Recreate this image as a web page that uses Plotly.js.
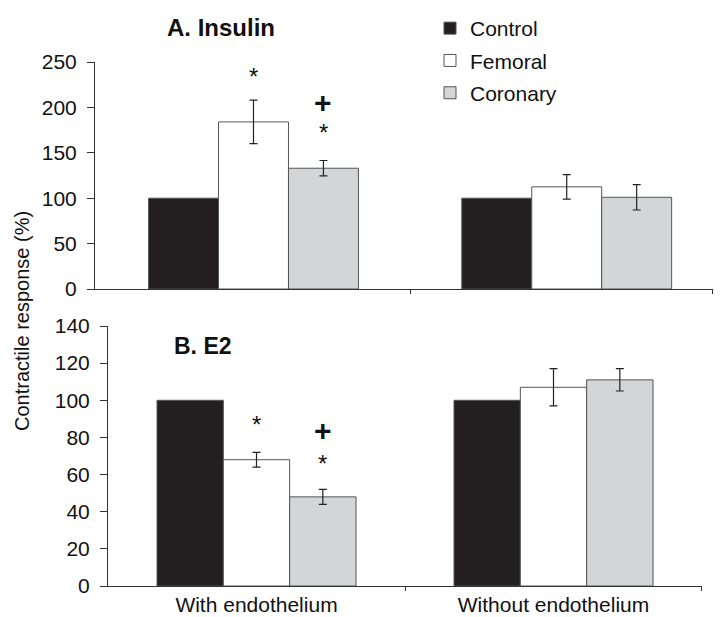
<!DOCTYPE html>
<html>
<head>
<meta charset="utf-8">
<script src="https://cdn.plot.ly/plotly-3.0.1.min.js"></script>
<style>html,body{margin:0;padding:0;background:#fff;}#chart{width:721px;height:617px;}</style>
</head>
<body>
<div id="chart"></div>
<script>
// ---- data ----
const groups = ["With endothelium", "Without endothelium"];
const groupPos = [0, 1];
const seriesNames = ["Control", "Femoral", "Coronary"];
const seriesColors = ["#231f20", "#ffffff", "#d4d5d7"];

// Panel A: Insulin
const insulinControl = [100, 100];
const insulinFemoral = [184, 112.5];
const insulinFemoralErr = [24, 13.5];
const insulinCoronary = [133, 101];
const insulinCoronaryErr = [8.5, 14];

// Panel B: E2
const e2Control = [100, 100];
const e2Femoral = [68, 107];
const e2FemoralErr = [4, 10];
const e2Coronary = [48, 111];
const e2CoronaryErr = [4, 6];

// significance marks: [panel, series, group, y, text]
const sigMarks = [
  ["A", 1, 0, 234, "*"],
  ["A", 2, 0, 205, "+"],
  ["A", 2, 0, 172, "*"],
  ["B", 1, 0, 87, "*"],
  ["B", 2, 0, 84, "+"],
  ["B", 2, 0, 66, "*"]
];

const font = "Liberation Sans, Arial, sans-serif";
const lineCol = "#555555";

function mk(name, idx, y, err, xa, ya, showleg) {
  const t = {
    type: "bar", name: name, x: groupPos, y: y, xaxis: xa, yaxis: ya,
    marker: {color: seriesColors[idx], line: {color: lineCol, width: 1}},
    showlegend: showleg, legendgroup: name, hoverinfo: "skip"
  };
  if (err) t.error_y = {type: "data", array: err, visible: true, color: "#222", thickness: 1.2, width: 4};
  return t;
}

const data = [
  mk(seriesNames[0], 0, insulinControl, null, "x", "y", true),
  mk(seriesNames[1], 1, insulinFemoral, insulinFemoralErr, "x", "y", true),
  mk(seriesNames[2], 2, insulinCoronary, insulinCoronaryErr, "x", "y", true),
  mk(seriesNames[0], 0, e2Control, null, "x2", "y2", false),
  mk(seriesNames[1], 1, e2Femoral, e2FemoralErr, "x2", "y2", false),
  mk(seriesNames[2], 2, e2Coronary, e2CoronaryErr, "x2", "y2", false)
];

const bargap = 0.33;
const barW = (1 - bargap) / 3;

const annotations = [
  {text: "<b>A. Insulin</b>", xref: "paper", yref: "paper", x: 221/721, y: 1 - 27/617, xanchor: "center", yanchor: "middle", showarrow: false, font: {family: font, size: 24, color: "#111"}},
  {text: "<b>B. E2</b>", xref: "paper", yref: "paper", x: 203/721, y: 1 - 346/617, xanchor: "center", yanchor: "middle", showarrow: false, font: {family: font, size: 23, color: "#111"}},
  {text: "Contractile response (%)", xref: "paper", yref: "paper", x: 22/721, y: 1 - 321/617, xanchor: "center", yanchor: "middle", textangle: -90, showarrow: false, font: {family: font, size: 20, color: "#111"}}
];
sigMarks.forEach(m => {
  const isPlus = m[4] === "+";
  annotations.push({
    text: isPlus ? "<b>+</b>" : m[4],
    xref: m[0] === "A" ? "x" : "x2", yref: m[0] === "A" ? "y" : "y2",
    x: groupPos[m[2]] + (m[1] - 1) * barW, y: m[3], showarrow: false,
    xanchor: "center", yanchor: "middle",
    font: {family: font, size: isPlus ? 30 : 24, color: "#111"}
  });
});

const axFont = {family: font, size: 21, color: "#111"};

const layout = {
  width: 721, height: 617,
  margin: {l: 0, r: 0, t: 0, b: 0},
  paper_bgcolor: "#fff", plot_bgcolor: "#fff",
  barmode: "group", bargap: bargap, bargroupgap: 0,
  showlegend: true,
  legend: {x: 430/721, y: 1 - 8/617, xanchor: "left", yanchor: "top", font: {family: font, size: 21, color: "#111"}, tracegroupgap: 2, bgcolor: "rgba(0,0,0,0)"},
  xaxis: {domain: [95/721, 713/721], range: [-0.506, 1.467], anchor: "y", showline: true, linecolor: "#333", linewidth: 1,
    tickmode: "array", tickvals: groupPos, ticktext: ["", ""], ticks: "", showgrid: false, zeroline: false, fixedrange: true,
    minor: {tickmode: "array", tickvals: [0.5, 1.465], ticks: "outside", ticklen: 4, tickcolor: "#333", showgrid: false}},
  yaxis: {domain: [1 - 289/617, 1 - 62/617], range: [0, 250], anchor: "x", showline: true, linecolor: "#333", linewidth: 1,
    tickmode: "array", tickvals: [0, 50, 100, 150, 200, 250], ticks: "outside", ticklen: 7, tickcolor: "#333",
    ticklabelstandoff: 6, showgrid: false, zeroline: false, tickfont: axFont, fixedrange: true},
  xaxis2: {domain: [108/721, 702/721], range: [-0.5, 1.5], anchor: "y2", showline: true, linecolor: "#333", linewidth: 1,
    tickmode: "array", tickvals: groupPos, ticktext: groups, ticks: "", showgrid: false, zeroline: false,
    tickfont: {family: font, size: 21, color: "#111"}, fixedrange: true,
    minor: {tickmode: "array", tickvals: [0.5, 1.498], ticks: "outside", ticklen: 4, tickcolor: "#333", showgrid: false}},
  yaxis2: {domain: [1 - 586/617, 1 - 326/617], range: [0, 140], anchor: "x2", showline: true, linecolor: "#333", linewidth: 1,
    tickmode: "array", tickvals: [0, 20, 40, 60, 80, 100, 120, 140], ticks: "outside", ticklen: 7, tickcolor: "#333",
    ticklabelstandoff: 6, showgrid: false, zeroline: false, tickfont: axFont, fixedrange: true},
  annotations: annotations
};

Plotly.newPlot("chart", data, layout, {displayModeBar: false, staticPlot: true});
</script>
</body>
</html>
